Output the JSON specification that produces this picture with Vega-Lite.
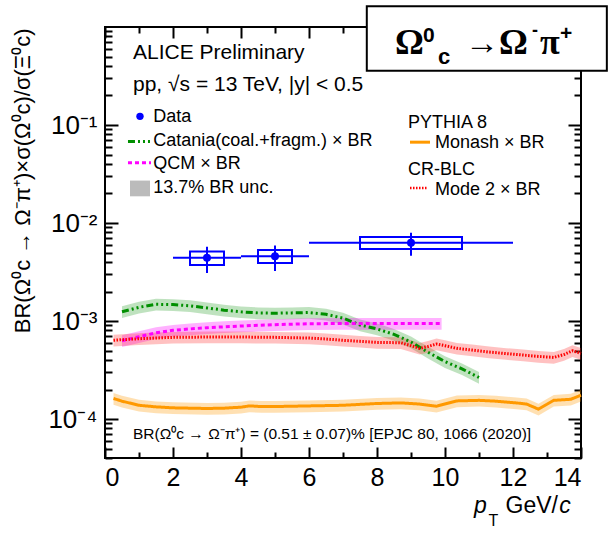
{
  "$schema": "https://vega.github.io/schema/vega-lite/v6.json",
  "width": 476,
  "height": 431,
  "autosize": {"type": "none"},
  "padding": {"left": 105, "top": 27, "right": 34, "bottom": 77},
  "background": "white",
  "config": {
    "view": {"stroke": "black", "strokeWidth": 2},
    "text": {"font": "Liberation Sans", "color": "black"},
    "axis": {"labelFont": "Liberation Sans", "titleFont": "Liberation Sans", "labelColor": "black", "titleColor": "black", "tickColor": "black", "tickWidth": 2, "grid": false, "domain": false}
  },
  "datasets": {
    "models": [
      {"model": "Catania", "pt": 0.5, "val": 0.001245, "lo": 0.0010744, "hi": 0.0014156},
      {"model": "Catania", "pt": 1.0, "val": 0.00138, "lo": 0.0011909, "hi": 0.0015691},
      {"model": "Catania", "pt": 1.5, "val": 0.00148, "lo": 0.0012772, "hi": 0.0016828},
      {"model": "Catania", "pt": 2.0, "val": 0.00147, "lo": 0.0012686, "hi": 0.0016714},
      {"model": "Catania", "pt": 2.5, "val": 0.00143, "lo": 0.0012341, "hi": 0.0016259},
      {"model": "Catania", "pt": 3.0, "val": 0.00136, "lo": 0.0011737, "hi": 0.0015463},
      {"model": "Catania", "pt": 3.5, "val": 0.00129, "lo": 0.0011133, "hi": 0.0014667},
      {"model": "Catania", "pt": 4.0, "val": 0.00124, "lo": 0.0010701, "hi": 0.0014099},
      {"model": "Catania", "pt": 4.5, "val": 0.00121, "lo": 0.0010442, "hi": 0.0013758},
      {"model": "Catania", "pt": 5.0, "val": 0.0012, "lo": 0.0010356, "hi": 0.0013644},
      {"model": "Catania", "pt": 5.5, "val": 0.00121, "lo": 0.0010442, "hi": 0.0013758},
      {"model": "Catania", "pt": 6.0, "val": 0.00122, "lo": 0.0010529, "hi": 0.0013871},
      {"model": "Catania", "pt": 6.5, "val": 0.00117, "lo": 0.0010097, "hi": 0.0013303},
      {"model": "Catania", "pt": 7.0, "val": 0.00107, "lo": 0.0009234, "hi": 0.0012166},
      {"model": "Catania", "pt": 7.5, "val": 0.00091, "lo": 0.0007853, "hi": 0.0010347},
      {"model": "Catania", "pt": 8.0, "val": 0.00083, "lo": 0.0007163, "hi": 0.0009437},
      {"model": "Catania", "pt": 8.5, "val": 0.00073, "lo": 0.00063, "hi": 0.00083},
      {"model": "Catania", "pt": 9.0, "val": 0.00061, "lo": 0.0005264, "hi": 0.0006936},
      {"model": "Catania", "pt": 9.5, "val": 0.00048, "lo": 0.0004142, "hi": 0.0005458},
      {"model": "Catania", "pt": 10.0, "val": 0.000385, "lo": 0.0003323, "hi": 0.0004377},
      {"model": "Catania", "pt": 10.5, "val": 0.000325, "lo": 0.0002805, "hi": 0.0003695},
      {"model": "Catania", "pt": 11.0, "val": 0.000265, "lo": 0.0002287, "hi": 0.0003013},
      {"model": "QCM", "pt": 0.5, "val": 0.000629, "lo": 0.0005428, "hi": 0.0007152},
      {"model": "QCM", "pt": 1.0, "val": 0.000691, "lo": 0.0005963, "hi": 0.0007857},
      {"model": "QCM", "pt": 1.5, "val": 0.000758, "lo": 0.0006542, "hi": 0.0008618},
      {"model": "QCM", "pt": 2.0, "val": 0.000803, "lo": 0.000693, "hi": 0.000913},
      {"model": "QCM", "pt": 2.5, "val": 0.00083, "lo": 0.0007163, "hi": 0.0009437},
      {"model": "QCM", "pt": 3.0, "val": 0.000854, "lo": 0.000737, "hi": 0.000971},
      {"model": "QCM", "pt": 3.5, "val": 0.000872, "lo": 0.0007525, "hi": 0.0009915},
      {"model": "QCM", "pt": 4.0, "val": 0.000889, "lo": 0.0007672, "hi": 0.0010108},
      {"model": "QCM", "pt": 4.5, "val": 0.000904, "lo": 0.0007802, "hi": 0.0010278},
      {"model": "QCM", "pt": 5.0, "val": 0.000917, "lo": 0.0007914, "hi": 0.0010426},
      {"model": "QCM", "pt": 5.5, "val": 0.000928, "lo": 0.0008009, "hi": 0.0010551},
      {"model": "QCM", "pt": 6.0, "val": 0.000938, "lo": 0.0008095, "hi": 0.0010665},
      {"model": "QCM", "pt": 7.0, "val": 0.000943, "lo": 0.0008138, "hi": 0.0010722},
      {"model": "QCM", "pt": 8.0, "val": 0.000943, "lo": 0.0008138, "hi": 0.0010722},
      {"model": "QCM", "pt": 9.0, "val": 0.000943, "lo": 0.0008138, "hi": 0.0010722},
      {"model": "QCM", "pt": 9.9, "val": 0.000943, "lo": 0.0008138, "hi": 0.0010722},
      {"model": "Mode 2", "pt": 0.25, "val": 0.000635, "lo": 0.000548, "hi": 0.000722},
      {"model": "Mode 2", "pt": 0.5, "val": 0.000645, "lo": 0.0005566, "hi": 0.0007334},
      {"model": "Mode 2", "pt": 1.0, "val": 0.000659, "lo": 0.0005687, "hi": 0.0007493},
      {"model": "Mode 2", "pt": 1.5, "val": 0.000671, "lo": 0.0005791, "hi": 0.0007629},
      {"model": "Mode 2", "pt": 2.0, "val": 0.000681, "lo": 0.0005877, "hi": 0.0007743},
      {"model": "Mode 2", "pt": 3.0, "val": 0.000686, "lo": 0.000592, "hi": 0.00078},
      {"model": "Mode 2", "pt": 4.0, "val": 0.000686, "lo": 0.000592, "hi": 0.00078},
      {"model": "Mode 2", "pt": 5.0, "val": 0.000681, "lo": 0.0005877, "hi": 0.0007743},
      {"model": "Mode 2", "pt": 6.0, "val": 0.00067, "lo": 0.0005782, "hi": 0.0007618},
      {"model": "Mode 2", "pt": 6.5, "val": 0.000655, "lo": 0.0005653, "hi": 0.0007447},
      {"model": "Mode 2", "pt": 7.0, "val": 0.000635, "lo": 0.000548, "hi": 0.000722},
      {"model": "Mode 2", "pt": 7.5, "val": 0.00062, "lo": 0.0005351, "hi": 0.0007049},
      {"model": "Mode 2", "pt": 8.0, "val": 0.000605, "lo": 0.0005221, "hi": 0.0006879},
      {"model": "Mode 2", "pt": 8.7, "val": 0.0006, "lo": 0.0005178, "hi": 0.0006822},
      {"model": "Mode 2", "pt": 9.0, "val": 0.00056, "lo": 0.0004833, "hi": 0.0006367},
      {"model": "Mode 2", "pt": 9.25, "val": 0.000526, "lo": 0.0004539, "hi": 0.0005981},
      {"model": "Mode 2", "pt": 9.5, "val": 0.00055, "lo": 0.0004747, "hi": 0.0006254},
      {"model": "Mode 2", "pt": 9.75, "val": 0.000582, "lo": 0.0005023, "hi": 0.0006617},
      {"model": "Mode 2", "pt": 10.0, "val": 0.00056, "lo": 0.0004833, "hi": 0.0006367},
      {"model": "Mode 2", "pt": 10.35, "val": 0.000526, "lo": 0.0004539, "hi": 0.0005981},
      {"model": "Mode 2", "pt": 10.8, "val": 0.000505, "lo": 0.0004358, "hi": 0.0005742},
      {"model": "Mode 2", "pt": 11.3, "val": 0.000482, "lo": 0.000416, "hi": 0.000548},
      {"model": "Mode 2", "pt": 11.8, "val": 0.000465, "lo": 0.0004013, "hi": 0.0005287},
      {"model": "Mode 2", "pt": 12.3, "val": 0.000449, "lo": 0.0003875, "hi": 0.0005105},
      {"model": "Mode 2", "pt": 12.75, "val": 0.000435, "lo": 0.0003754, "hi": 0.0004946},
      {"model": "Mode 2", "pt": 13.2, "val": 0.000425, "lo": 0.0003668, "hi": 0.0004832},
      {"model": "Mode 2", "pt": 13.5, "val": 0.000455, "lo": 0.0003927, "hi": 0.0005173},
      {"model": "Mode 2", "pt": 13.75, "val": 0.000497, "lo": 0.0004289, "hi": 0.0005651},
      {"model": "Mode 2", "pt": 14.0, "val": 0.000467, "lo": 0.000403, "hi": 0.000531},
      {"model": "Monash", "pt": 0.25, "val": 0.000162, "lo": 0.0001398, "hi": 0.0001842},
      {"model": "Monash", "pt": 0.5, "val": 0.000152, "lo": 0.0001312, "hi": 0.0001728},
      {"model": "Monash", "pt": 1.0, "val": 0.000138, "lo": 0.0001191, "hi": 0.0001569},
      {"model": "Monash", "pt": 1.5, "val": 0.000133, "lo": 0.0001148, "hi": 0.0001512},
      {"model": "Monash", "pt": 2.0, "val": 0.00013, "lo": 0.0001122, "hi": 0.0001478},
      {"model": "Monash", "pt": 3.0, "val": 0.000128, "lo": 0.0001105, "hi": 0.0001455},
      {"model": "Monash", "pt": 3.5, "val": 0.000129, "lo": 0.0001113, "hi": 0.0001467},
      {"model": "Monash", "pt": 4.0, "val": 0.000132, "lo": 0.0001139, "hi": 0.0001501},
      {"model": "Monash", "pt": 4.25, "val": 0.000136, "lo": 0.0001174, "hi": 0.0001546},
      {"model": "Monash", "pt": 4.6, "val": 0.000134, "lo": 0.0001156, "hi": 0.0001524},
      {"model": "Monash", "pt": 5.0, "val": 0.000134, "lo": 0.0001156, "hi": 0.0001524},
      {"model": "Monash", "pt": 6.0, "val": 0.000136, "lo": 0.0001174, "hi": 0.0001546},
      {"model": "Monash", "pt": 7.0, "val": 0.000138, "lo": 0.0001191, "hi": 0.0001569},
      {"model": "Monash", "pt": 8.0, "val": 0.000144, "lo": 0.0001243, "hi": 0.0001637},
      {"model": "Monash", "pt": 8.7, "val": 0.000146, "lo": 0.000126, "hi": 0.000166},
      {"model": "Monash", "pt": 9.25, "val": 0.000142, "lo": 0.0001225, "hi": 0.0001615},
      {"model": "Monash", "pt": 9.75, "val": 0.000135, "lo": 0.0001165, "hi": 0.0001535},
      {"model": "Monash", "pt": 10.35, "val": 0.000153, "lo": 0.000132, "hi": 0.000174},
      {"model": "Monash", "pt": 11.0, "val": 0.000155, "lo": 0.0001338, "hi": 0.0001762},
      {"model": "Monash", "pt": 11.5, "val": 0.000152, "lo": 0.0001312, "hi": 0.0001728},
      {"model": "Monash", "pt": 12.1, "val": 0.000146, "lo": 0.000126, "hi": 0.000166},
      {"model": "Monash", "pt": 12.4, "val": 0.000142, "lo": 0.0001225, "hi": 0.0001615},
      {"model": "Monash", "pt": 12.75, "val": 0.000126, "lo": 0.0001087, "hi": 0.0001433},
      {"model": "Monash", "pt": 13.2, "val": 0.000155, "lo": 0.0001338, "hi": 0.0001762},
      {"model": "Monash", "pt": 13.7, "val": 0.000159, "lo": 0.0001372, "hi": 0.0001808},
      {"model": "Monash", "pt": 14.0, "val": 0.000175, "lo": 0.000151, "hi": 0.000199}
    ],
    "points": [
      {"pt": 3, "xlo": 2, "xhi": 4, "bxlo": 2.5, "bxhi": 3.5, "val": 0.00441, "stat_lo": 0.00308, "stat_hi": 0.00572, "sys_lo": 0.00372, "sys_hi": 0.00511},
      {"pt": 5, "xlo": 4, "xhi": 6, "bxlo": 4.5, "bxhi": 5.5, "val": 0.00459, "stat_lo": 0.00323, "stat_hi": 0.0059, "sys_lo": 0.0039, "sys_hi": 0.0053},
      {"pt": 9, "xlo": 6, "xhi": 12, "bxlo": 7.5, "bxhi": 10.5, "val": 0.00629, "stat_lo": 0.00463, "stat_hi": 0.00796, "sys_lo": 0.00542, "sys_hi": 0.00719}
    ],
    "one": [{}]
  },
  "layer": [
    {
      "data": {"name": "models"},
      "mark": {"type": "area", "fillOpacity": 0.3},
      "encoding": {
        "x": {"field": "pt", "type": "quantitative", "scale": {"domain": [0, 14], "nice": false, "zero": false},
          "axis": {"orient": "bottom", "values": [0, 2, 4, 6, 8, 10, 12, 14], "ticks": false, "labelFontSize": 25, "labelPadding": 7, "title": null}},
        "y": {"field": "lo", "type": "quantitative", "scale": {"type": "log", "domain": [0.00004, 1], "nice": false},
          "axis": {"orient": "left", "values": [0.0001, 0.001, 0.01, 0.1], "ticks": false, "labelFontSize": 26, "labelPadding": 8,
            "labelExpr": "datum.value < 0.0002 ? '10⁻⁴' : datum.value < 0.002 ? '10⁻³' : datum.value < 0.02 ? '10⁻²' : '10⁻¹'",
            "title": "BR(Ω⁰c → Ω⁻π⁺)×σ(Ω⁰c)/σ(Ξ⁰c)", "titleFontSize": 22, "titleFontWeight": "normal", "titleAngle": -90, "titleX": -71, "titleY": 1, "titleAlign": "right", "titleBaseline": "bottom"}},
        "y2": {"field": "hi"},
        "fill": {"field": "model", "type": "nominal", "scale": {"domain": ["Catania", "QCM", "Mode 2", "Monash"], "range": ["#2ca02c", "#ff00ff", "#ff3333", "#ff9900"]}, "legend": null}
      }
    },
    {
      "data": {"name": "models"},
      "mark": {"type": "line", "strokeWidth": 3},
      "encoding": {
        "x": {"field": "pt", "type": "quantitative",
          "axis": {"orient": "bottom", "values": [0, 1, 2, 3, 4, 5, 6, 7, 8, 9, 10, 11, 12, 13, 14], "labels": false, "title": null,
            "tickSize": {"condition": {"test": "datum.value % 2 === 0", "value": -11}, "value": -6}}},
        "y": {"field": "val", "type": "quantitative",
          "axis": {"orient": "left", "labels": false, "title": null,
            "values": [0.00004, 0.00005, 0.00006, 0.00007, 0.00008, 0.00009, 0.0001, 0.0002, 0.0003, 0.0004, 0.0005, 0.0006, 0.0007, 0.0008, 0.0009, 0.001, 0.002, 0.003, 0.004, 0.005, 0.006, 0.007, 0.008, 0.009, 0.01, 0.02, 0.03, 0.04, 0.05, 0.06, 0.07, 0.08, 0.09, 0.1, 0.2, 0.3, 0.4, 0.5, 0.6, 0.7, 0.8, 0.9],
            "tickSize": {"condition": {"test": "abs(log(datum.value)/LN10 - round(log(datum.value)/LN10)) < 0.001", "value": -13}, "value": -7}}},
        "stroke": {"field": "model", "type": "nominal", "scale": {"domain": ["Catania", "QCM", "Mode 2", "Monash"], "range": ["#008f00", "#ff00ff", "#ff0000", "#ff9900"]}, "legend": null},
        "strokeDash": {"field": "model", "type": "nominal", "scale": {"domain": ["Catania", "QCM", "Mode 2", "Monash"], "range": [[7, 3, 2, 3, 2, 3, 2, 3], [4, 3], [1.5, 1.5], [1, 0]]}, "legend": null}
      }
    },
    {
      "data": {"name": "points"},
      "mark": {"type": "rule", "color": "#0000ff", "strokeWidth": 2},
      "encoding": {
        "x": {"field": "xlo", "type": "quantitative",
          "axis": {"orient": "top", "values": [0, 1, 2, 3, 4, 5, 6, 7, 8, 9, 10, 11, 12, 13, 14], "labels": false, "title": null,
            "tickSize": {"condition": {"test": "datum.value % 2 === 0", "value": -11}, "value": -6}}},
        "x2": {"field": "xhi"},
        "y": {"field": "val", "type": "quantitative",
          "axis": {"orient": "right", "labels": false, "title": null,
            "values": [0.00004, 0.00005, 0.00006, 0.00007, 0.00008, 0.00009, 0.0001, 0.0002, 0.0003, 0.0004, 0.0005, 0.0006, 0.0007, 0.0008, 0.0009, 0.001, 0.002, 0.003, 0.004, 0.005, 0.006, 0.007, 0.008, 0.009, 0.01, 0.02, 0.03, 0.04, 0.05, 0.06, 0.07, 0.08, 0.09, 0.1, 0.2, 0.3, 0.4, 0.5, 0.6, 0.7, 0.8, 0.9],
            "tickSize": {"condition": {"test": "abs(log(datum.value)/LN10 - round(log(datum.value)/LN10)) < 0.001", "value": -13}, "value": -7}}}
      }
    },
    {
      "data": {"name": "points"},
      "mark": {"type": "rule", "color": "#0000ff", "strokeWidth": 2},
      "encoding": {
        "x": {"field": "pt", "type": "quantitative", "axis": null},
        "y": {"field": "stat_lo", "type": "quantitative", "axis": null},
        "y2": {"field": "stat_hi"}
      }
    },
    {
      "data": {"name": "points"},
      "mark": {"type": "rect", "fillOpacity": 0, "stroke": "#0000ff", "strokeWidth": 2},
      "encoding": {
        "x": {"field": "bxlo", "type": "quantitative", "axis": null},
        "x2": {"field": "bxhi"},
        "y": {"field": "sys_lo", "type": "quantitative", "axis": null},
        "y2": {"field": "sys_hi"}
      }
    },
    {
      "data": {"name": "points"},
      "mark": {"type": "point", "filled": true, "opacity": 1, "color": "#0000ff", "size": 64},
      "encoding": {
        "x": {"field": "pt", "type": "quantitative", "axis": null},
        "y": {"field": "val", "type": "quantitative", "axis": null}
      }
    },
    {
      "data": {"name": "one"},
      "mark": {"type": "point", "filled": true, "opacity": 1, "color": "#0000ff", "size": 55},
      "encoding": {"x": {"datum": 1.029, "axis": null}, "y": {"datum": 0.1225, "axis": null}}
    },
    {
      "data": {"name": "one"},
      "mark": {"type": "rule", "color": "#008f00", "strokeWidth": 3, "strokeDash": [7, 3, 2, 3, 2, 3, 2, 3]},
      "encoding": {"x": {"datum": 0.676, "axis": null}, "x2": {"datum": 1.353}, "y": {"datum": 0.068, "axis": null}}
    },
    {
      "data": {"name": "one"},
      "mark": {"type": "rule", "color": "#ff00ff", "strokeWidth": 3, "strokeDash": [4, 3]},
      "encoding": {"x": {"datum": 0.676, "axis": null}, "x2": {"datum": 1.353}, "y": {"datum": 0.0411, "axis": null}}
    },
    {
      "data": {"name": "one"},
      "mark": {"type": "rect", "color": "#bbbbbb"},
      "encoding": {"x": {"datum": 0.735, "axis": null}, "x2": {"datum": 1.324}, "y": {"datum": 0.01872, "axis": null}, "y2": {"datum": 0.0271}}
    },
    {
      "data": {"name": "one"},
      "mark": {"type": "rule", "color": "#ff9900", "strokeWidth": 3},
      "encoding": {"x": {"datum": 8.971, "axis": null}, "x2": {"datum": 9.559}, "y": {"datum": 0.0668, "axis": null}}
    },
    {
      "data": {"name": "one"},
      "mark": {"type": "rule", "color": "#ff0000", "strokeWidth": 2.5, "strokeDash": [1.5, 1.5]},
      "encoding": {"x": {"datum": 8.971, "axis": null}, "x2": {"datum": 9.5}, "y": {"datum": 0.02282, "axis": null}}
    },
    {
      "data": {"name": "one"},
      "mark": {"type": "text", "text": "Data", "fontSize": 18, "align": "left", "baseline": "alphabetic"},
      "encoding": {"x": {"datum": 1.421, "axis": null}, "y": {"datum": 0.1063, "axis": null}}
    },
    {
      "data": {"name": "one"},
      "mark": {"type": "text", "text": "Catania(coal.+fragm.) × BR", "fontSize": 18, "align": "left", "baseline": "alphabetic"},
      "encoding": {"x": {"datum": 1.421, "axis": null}, "y": {"datum": 0.0611, "axis": null}}
    },
    {
      "data": {"name": "one"},
      "mark": {"type": "text", "text": "QCM × BR", "fontSize": 18, "align": "left", "baseline": "alphabetic"},
      "encoding": {"x": {"datum": 1.421, "axis": null}, "y": {"datum": 0.03554, "axis": null}}
    },
    {
      "data": {"name": "one"},
      "mark": {"type": "text", "text": "13.7% BR unc.", "fontSize": 18, "align": "left", "baseline": "alphabetic"},
      "encoding": {"x": {"datum": 1.421, "axis": null}, "y": {"datum": 0.02018, "axis": null}}
    },
    {
      "data": {"name": "one"},
      "mark": {"type": "text", "text": "PYTHIA 8", "fontSize": 18, "align": "left", "baseline": "alphabetic"},
      "encoding": {"x": {"datum": 8.912, "axis": null}, "y": {"datum": 0.0938, "axis": null}}
    },
    {
      "data": {"name": "one"},
      "mark": {"type": "text", "text": "Monash × BR", "fontSize": 18, "align": "left", "baseline": "alphabetic"},
      "encoding": {"x": {"datum": 9.706, "axis": null}, "y": {"datum": 0.0586, "axis": null}}
    },
    {
      "data": {"name": "one"},
      "mark": {"type": "text", "text": "CR-BLC", "fontSize": 18, "align": "left", "baseline": "alphabetic"},
      "encoding": {"x": {"datum": 8.912, "axis": null}, "y": {"datum": 0.03122, "axis": null}}
    },
    {
      "data": {"name": "one"},
      "mark": {"type": "text", "text": "Mode 2 × BR", "fontSize": 18, "align": "left", "baseline": "alphabetic"},
      "encoding": {"x": {"datum": 9.706, "axis": null}, "y": {"datum": 0.01949, "axis": null}}
    },
    {
      "data": {"name": "one"},
      "mark": {"type": "text", "text": "ALICE Preliminary", "fontSize": 21, "align": "left", "baseline": "alphabetic"},
      "encoding": {"x": {"datum": 0.824, "axis": null}, "y": {"datum": 0.469, "axis": null}}
    },
    {
      "data": {"name": "one"},
      "mark": {"type": "text", "text": "pp, √s = 13 TeV, |y| < 0.5", "fontSize": 21, "align": "left", "baseline": "alphabetic"},
      "encoding": {"x": {"datum": 0.824, "axis": null}, "y": {"datum": 0.2208, "axis": null}}
    },
    {
      "data": {"name": "one"},
      "mark": {"type": "text", "text": "BR(Ω⁰c → Ω⁻π⁺) = (0.51 ± 0.07)% [EPJC 80, 1066 (2020)]", "fontSize": 15.5, "align": "left", "baseline": "alphabetic"},
      "encoding": {"x": {"datum": 0.824, "axis": null}, "y": {"datum": 0.000063, "axis": null}}
    },
    {
      "data": {"name": "one"},
      "mark": {"type": "text", "text": "p", "fontSize": 23, "fontStyle": "italic", "align": "left", "baseline": "alphabetic"},
      "encoding": {"x": {"datum": 10.85, "axis": null}, "y": {"datum": 0.0000111, "axis": null}}
    },
    {
      "data": {"name": "one"},
      "mark": {"type": "text", "text": "T", "fontSize": 16, "align": "left", "baseline": "alphabetic"},
      "encoding": {"x": {"datum": 11.28, "axis": null}, "y": {"datum": 0.0000081, "axis": null}}
    },
    {
      "data": {"name": "one"},
      "mark": {"type": "text", "text": "GeV/", "fontSize": 23, "align": "left", "baseline": "alphabetic"},
      "encoding": {"x": {"datum": 11.78, "axis": null}, "y": {"datum": 0.0000111, "axis": null}}
    },
    {
      "data": {"name": "one"},
      "mark": {"type": "text", "text": "c", "fontSize": 23, "fontStyle": "italic", "align": "left", "baseline": "alphabetic"},
      "encoding": {"x": {"datum": 13.36, "axis": null}, "y": {"datum": 0.0000111, "axis": null}}
    },
    {
      "data": {"name": "one"},
      "mark": {"type": "rect", "fill": "white", "stroke": "black", "strokeWidth": 2},
      "encoding": {"x": {"datum": 7.70, "axis": null}, "x2": {"datum": 14.76}, "y": {"datum": 0.357, "axis": null}, "y2": {"datum": 1.625}}
    },
    {
      "data": {"name": "one"},
      "mark": {"type": "text", "text": "Ω", "font": "Liberation Serif", "fontSize": 36, "fontWeight": "bold", "align": "left", "baseline": "alphabetic"},
      "encoding": {"x": {"datum": 8.529, "axis": null}, "y": {"datum": 0.528, "axis": null}}
    },
    {
      "data": {"name": "one"},
      "mark": {"type": "text", "text": "0", "fontSize": 21, "fontWeight": "bold", "align": "left", "baseline": "alphabetic"},
      "encoding": {"x": {"datum": 9.353, "axis": null}, "y": {"datum": 0.7006, "axis": null}}
    },
    {
      "data": {"name": "one"},
      "mark": {"type": "text", "text": "c", "fontSize": 22, "fontWeight": "bold", "align": "left", "baseline": "alphabetic"},
      "encoding": {"x": {"datum": 9.794, "axis": null}, "y": {"datum": 0.417, "axis": null}}
    },
    {
      "data": {"name": "one"},
      "mark": {"type": "text", "text": "→", "font": "Liberation Serif", "fontSize": 34, "align": "left", "baseline": "alphabetic"},
      "encoding": {"x": {"datum": 10.588, "axis": null}, "y": {"datum": 0.528, "axis": null}}
    },
    {
      "data": {"name": "one"},
      "mark": {"type": "text", "text": "Ω", "font": "Liberation Serif", "fontSize": 36, "fontWeight": "bold", "align": "left", "baseline": "alphabetic"},
      "encoding": {"x": {"datum": 11.588, "axis": null}, "y": {"datum": 0.528, "axis": null}}
    },
    {
      "data": {"name": "one"},
      "mark": {"type": "text", "text": "-", "fontSize": 18, "fontWeight": "bold", "align": "left", "baseline": "alphabetic"},
      "encoding": {"x": {"datum": 12.56, "axis": null}, "y": {"datum": 0.807, "axis": null}}
    },
    {
      "data": {"name": "one"},
      "mark": {"type": "text", "text": "π", "font": "Liberation Serif", "fontSize": 36, "fontWeight": "bold", "align": "left", "baseline": "alphabetic"},
      "encoding": {"x": {"datum": 12.794, "axis": null}, "y": {"datum": 0.528, "axis": null}}
    },
    {
      "data": {"name": "one"},
      "mark": {"type": "text", "text": "+", "fontSize": 21, "fontWeight": "bold", "align": "left", "baseline": "alphabetic"},
      "encoding": {"x": {"datum": 13.38, "axis": null}, "y": {"datum": 0.743, "axis": null}}
    }
  ],
  "resolve": {"axis": {"x": "independent", "y": "independent"}}
}
